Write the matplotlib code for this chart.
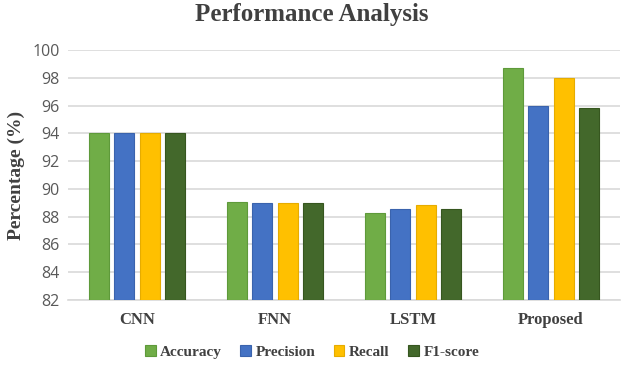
import numpy as np
import matplotlib.pyplot as plt

# data
models = ["CNN", "FNN", "LSTM", "Proposed"]
metrics = ["Accuracy", "Precision", "Recall", "F1-score"]
accuracy = [94.0, 89.05, 88.25, 98.7]
precision = [94.0, 89.0, 88.55, 96.0]
recall = [94.0, 89.0, 88.85, 98.0]
f1_score = [94.0, 89.0, 88.55, 95.8]
yticks = [82, 84, 86, 88, 90, 92, 94, 96, 98, 100]

colors = ["#70AD47", "#4472C4", "#FFC000", "#43682B"]
edge_colors = ["#5E9A3A", "#3A63AD", "#E6AC00", "#36561F"]

SERIF = "Liberation Serif"
TEXT_COLOR = "#404040"

fig = plt.figure(figsize=(6.24, 3.68), dpi=100)
ax = fig.add_axes([68 / 624, 1 - 300 / 368, 552 / 624, 250 / 368])

x = np.arange(len(models))
pitch = 0.183
width = 0.145
series = [accuracy, precision, recall, f1_score]
for i, vals in enumerate(series):
    offset = (i - 1.5) * pitch
    ax.bar(x + offset, np.array(vals) - yticks[0], width, bottom=yticks[0],
           color=colors[i], edgecolor=edge_colors[i], linewidth=0.8,
           label=metrics[i], zorder=3)

ax.set_xlim(-0.5, len(models) - 0.5)
ax.set_ylim(yticks[0], yticks[-1])
ax.set_yticks(yticks)
ax.set_yticklabels([str(t) for t in yticks], fontsize=11.5, color="#595959",
                   family="Open Sans")
ax.set_xticks(x)
ax.set_xticklabels(models, fontsize=12, fontweight="bold", color=TEXT_COLOR,
                   family=SERIF)
ax.tick_params(axis="both", length=0)
ax.tick_params(axis="x", pad=9)
ax.tick_params(axis="y", pad=6)

ax.grid(axis="y", color="#D9D9D9", linewidth=1.2, zorder=0)
for side in ["top", "right", "left"]:
    ax.spines[side].set_visible(False)
ax.spines["bottom"].set_color("#D9D9D9")
ax.spines["bottom"].set_linewidth(1.2)

ax.set_ylabel("Percentage (%)", fontsize=14, fontweight="bold",
              color=TEXT_COLOR, family=SERIF, labelpad=5)

fig.text(0.5, 1 - 15 / 368, "Performance Analysis", ha="center", va="center",
         fontsize=18, fontweight="bold", color=TEXT_COLOR, family=SERIF)

leg = fig.legend(loc="center", bbox_to_anchor=(0.5, 1 - 352 / 368), ncol=4,
                 frameon=False, handlelength=0.7, handleheight=0.7,
                 handletextpad=0.3, columnspacing=1.2,
                 prop={"family": SERIF, "weight": "bold", "size": 11})
for t in leg.get_texts():
    t.set_color(TEXT_COLOR)

fig.savefig("out.png", dpi=100)
